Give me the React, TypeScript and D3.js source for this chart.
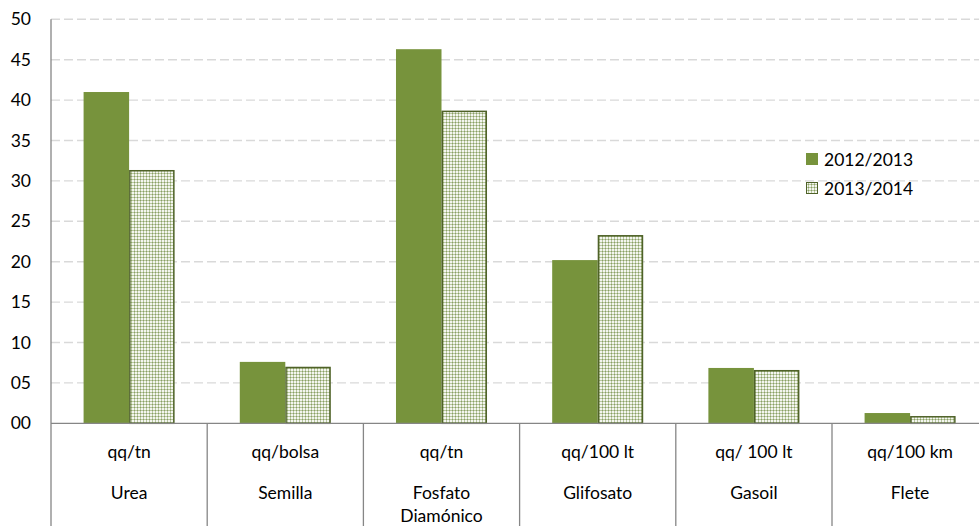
import React from "react";
import * as d3 from "d3";

const categories = ["Urea", "Semilla", "Fosfato Diamónico", "Glifosato", "Gasoil", "Flete"];
const units = ["qq/tn", "qq/bolsa", "qq/tn", "qq/100 lt", "qq/ 100 lt", "qq/100 km"];
const seriesNames = ["2012/2013", "2013/2014"];
const values2012 = [41.0, 7.6, 46.3, 20.2, 6.85, 1.27];
const values2013 = [31.35, 7.0, 38.7, 23.3, 6.6, 0.9];
const yTicks = [0, 5, 10, 15, 20, 25, 30, 35, 40, 45, 50];

const W = 979;
const H = 526;
const FONT = "Lato, 'Open Sans', sans-serif";
const FS = 17.5;
const GREEN = "#77933C";
const DARK = "#4F6228";

export default function App() {
  const left = 51;
  const step = 156.2;
  const x = d3.scaleBand<string>().domain(categories).range([left, left + step * categories.length]).padding(0);
  const xs = d3.scaleBand<string>().domain(seriesNames).range([0, x.bandwidth()]).paddingInner(0).paddingOuter(0.716);
  const y = d3.scaleLinear().domain([0, 50]).range([423.3, 19.3]);
  const fmt = d3.format("02d");
  const seriesValues = [values2012, values2013];

  return (
    <svg width={W} height={H} style={{ position: "absolute", left: 0, top: 0, background: "#fff" }}>
      <defs>
        <pattern id="checker" width={3} height={3} patternUnits="userSpaceOnUse">
          <rect x={0} y={0} width={3} height={3} fill="#b9c7a2" />
          <rect x={0} y={0} width={2} height={2} fill="#f4f6ef" />
          <rect x={2} y={2} width={1} height={1} fill="#8aa062" />
        </pattern>
      </defs>
      {/* gridlines */}
      {yTicks.filter((t) => t > 0).map((t) => (
        <line key={t} x1={left} x2={W} y1={y(t)} y2={y(t)} stroke="#d9d9d9" strokeWidth={1.4} strokeDasharray="9,4" />
      ))}
      {/* bars */}
      {categories.map((c, i) =>
        seriesNames.map((s, j) => {
          const v = seriesValues[j][i];
          const bx = (x(c) as number) + (xs(s) as number);
          const by = y(v);
          const bh = y(0) - by;
          return j === 0 ? (
            <rect key={c + s} x={bx} y={by} width={xs.bandwidth()} height={bh} fill={GREEN} />
          ) : (
            <rect key={c + s} x={bx + 0.75} y={by + 0.75} width={xs.bandwidth() - 1.5} height={bh - 0.75} fill="url(#checker)" stroke={DARK} strokeWidth={1.5} />
          );
        })
      )}
      {/* axes */}
      <line x1={left} x2={left} y1={19.3} y2={H} stroke="#868686" strokeWidth={1.3} />
      <line x1={left} x2={W} y1={y(0)} y2={y(0)} stroke="#868686" strokeWidth={1.3} />
      {categories.map((c, i) =>
        i > 0 ? (
          <line key={"sep" + c} x1={x(c) as number} x2={x(c) as number} y1={y(0)} y2={H} stroke="#868686" strokeWidth={1.3} />
        ) : null
      )}
      {/* y tick labels */}
      {yTicks.map((t) => (
        <text key={"yt" + t} x={31} y={y(t) + 6} textAnchor="end" fontFamily={FONT} fontSize={FS} fill="#000">
          {fmt(t)}
        </text>
      ))}
      {/* category labels */}
      {categories.map((c, i) => {
        const cx = (x(c) as number) + x.bandwidth() / 2;
        const lines = c.length > 12 ? c.split(" ") : [c];
        return (
          <g key={"lab" + c}>
            <text x={cx} y={458} textAnchor="middle" fontFamily={FONT} fontSize={FS} fill="#000">
              {units[i]}
            </text>
            {lines.map((ln, k) => (
              <text key={ln} x={cx} y={499 + k * 23} textAnchor="middle" fontFamily={FONT} fontSize={FS} fill="#000">
                {ln}
              </text>
            ))}
          </g>
        );
      })}
      {/* legend */}
      {seriesNames.map((s, j) => (
        <g key={"lg" + s} transform={`translate(806, ${153 + j * 29})`}>
          {j === 0 ? (
            <rect x={0} y={0} width={12} height={12} fill={GREEN} />
          ) : (
            <rect x={0.5} y={0.5} width={11} height={11} fill="url(#checker)" stroke={DARK} strokeWidth={1} />
          )}
          <text x={18} y={12.5} fontFamily={FONT} fontSize={FS} fill="#000">
            {s}
          </text>
        </g>
      ))}
    </svg>
  );
}
